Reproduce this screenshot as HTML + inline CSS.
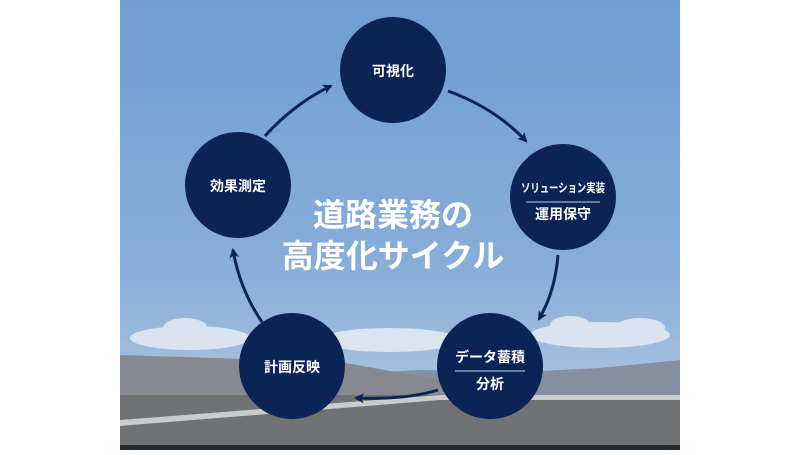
<!DOCTYPE html>
<html><head><meta charset="utf-8"><style>
body{margin:0;width:800px;height:450px;background:#fff;overflow:hidden;font-family:"Liberation Sans","Noto Sans CJK JP",sans-serif}
</style></head><body>
<svg width="800" height="450" viewBox="0 0 800 450" xmlns="http://www.w3.org/2000/svg">
<defs>
<linearGradient id="sky" x1="0" y1="0" x2="0" y2="1">
<stop offset="0" stop-color="#6f9dd3"/><stop offset="0.6" stop-color="#88aed9"/><stop offset="1" stop-color="#b8cde2"/>
</linearGradient>
<marker id="ah" markerWidth="10" markerHeight="10" refX="8" refY="5" orient="auto" markerUnits="userSpaceOnUse">
<path d="M0,0 L10,5 L0,10 L3,5 Z" fill="#0c2356"/></marker>
</defs>
<rect x="120" y="0" width="560" height="450" fill="url(#sky)"/>
<g fill="#e6ecf2" opacity="0.85">
<ellipse cx="190" cy="338" rx="60" ry="12"/><ellipse cx="185" cy="328" rx="22" ry="10"/>
<ellipse cx="390" cy="340" rx="70" ry="12"/><ellipse cx="600" cy="335" rx="70" ry="13"/>
<ellipse cx="640" cy="328" rx="25" ry="10"/><ellipse cx="570" cy="325" rx="20" ry="9"/>
</g>
<path d="M330,375 L420,370 L520,372 L600,368 L660,362 L680,360 L680,395 L330,395Z" fill="#8590a0"/>
<path d="M120,355 L340,362 L440,380 L440,400 L120,400Z" fill="#868a90"/>
<rect x="120" y="395" width="560" height="50" fill="#717274"/>
<path d="M120,420 L440,395 L680,395 L680,400 L440,400 L120,426Z" fill="#c9cbcc"/>
<rect x="120" y="445" width="560" height="5" fill="#1f2a3b"/>
<g fill="none" stroke="#0c2356" stroke-width="3" marker-end="url(#ah)">
<path d="M265,136 Q295,103 331,86"/>
<path d="M448,91 Q495,108 526,141"/>
<path d="M558,255 Q555,292 539,319"/>
<path d="M438,390 Q405,400 356,398"/>
<path d="M262,322 Q240,290 233,250"/>
</g>
<g fill="#0c2356">
<circle cx="393" cy="70" r="53"/><circle cx="238" cy="185" r="53"/>
<circle cx="563" cy="197" r="53"/><circle cx="292" cy="366" r="53"/>
<circle cx="490" cy="366" r="53"/>
</g>
<g fill="#fff" font-weight="bold" font-size="14" text-anchor="middle" font-family="Liberation Sans,Noto Sans CJK JP,sans-serif">
<text x="393" y="76">可視化</text>
<text x="238" y="191">効果測定</text>
<text x="563" y="192" font-size="12" textLength="84" lengthAdjust="spacingAndGlyphs">ソリューション実装</text>
<text x="563" y="219">運用保守</text>
<text x="292" y="372">計画反映</text>
<text x="490" y="362">データ蓄積</text>
<text x="490" y="389">分析</text>
<text x="393" y="226" font-size="32">道路業務の</text>
<text x="393" y="267" font-size="32">高度化サイクル</text>
</g>
<line x1="526" y1="202" x2="600" y2="202" stroke="#c8d0e0" stroke-width="1"/>
<line x1="455" y1="371" x2="525" y2="371" stroke="#c8d0e0" stroke-width="1"/>
</svg>
</body></html>
